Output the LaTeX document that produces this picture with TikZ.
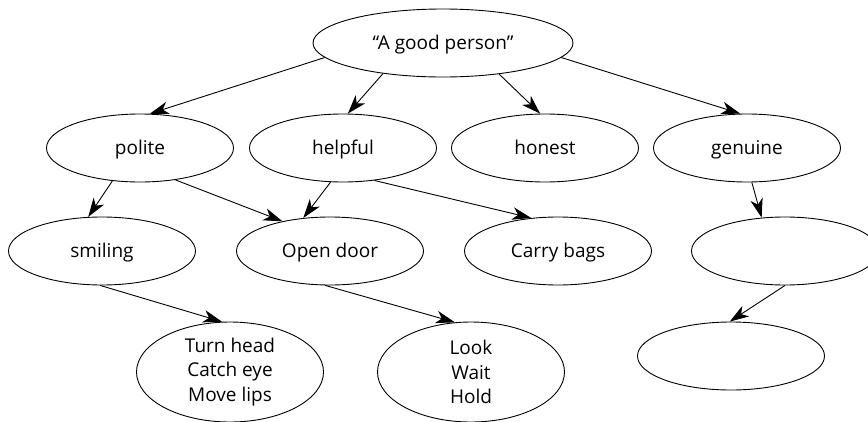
\documentclass[tikz,border=0pt]{standalone}
\usepackage{fontspec}
\setmainfont{Open Sans}
\usetikzlibrary{shapes.geometric,arrows.meta}
\begin{document}
\begin{tikzpicture}[x=1pt,y=-1pt,
  shell/.style={draw,ellipse,line width=0.9pt,minimum width=187pt,minimum height=68pt,
    inner sep=0pt,align=center,font=\fontsize{19}{24.5}\selectfont},
  bubble/.style={shell,text height=16pt,text depth=3pt},
  tallbubble/.style={shell,minimum height=100pt},
  link/.style={line width=0.9pt,-{Stealth[length=19pt,width=12.5pt,inset=5.5pt]}}]
\useasboundingbox (0,0) rectangle (868,421);
\begin{scope}
\clip (0,0) rectangle (868,421);
% top level
\node[bubble,minimum width=260pt] (top) at (443,43) {“A good person”};
% qualities
\node[bubble] (polite)  at (140,148) {polite};
\node[bubble] (helpful) at (343,148) {helpful};
\node[bubble] (honest)  at (545,148) {honest};
\node[bubble] (genuine) at (747,148) {genuine};
% behaviours
\node[bubble] (smiling) at (102,251) {smiling};
\node[bubble] (door)    at (330,251) {Open door};
\node[bubble] (bags)    at (558,251) {Carry bags};
\node[bubble] (blankA)  at (785,251) {};
% actions
\node[tallbubble] (turn) at (230,372) {Turn head\\Catch eye\\Move lips};
\node[tallbubble] (look) at (471,372) {Look\\Wait\\Hold};
\node[bubble] (blankB)   at (731,356) {};
\end{scope}
% connectors
\draw[link] (top.187) -- (polite.74);
\draw[link] (top.207) -- (helpful.82);
\draw[link] (top.331) -- (honest.98);
\draw[link] (top.353) -- (genuine.101);
\draw[link] (polite.230) -- (smiling.112);
\draw[link] (polite.318) -- (door.148);
\draw[link] (helpful.250) -- (door.129);
\draw[link] (helpful.314) -- (bags.129);
\draw[link] (genuine.278) -- (blankA.125);
\draw[link] (smiling.267) -- (turn.99);
\draw[link] (door.262) -- (look.108);
\draw[link] (blankA.270) -- (blankB.92);
\end{tikzpicture}
\end{document}
